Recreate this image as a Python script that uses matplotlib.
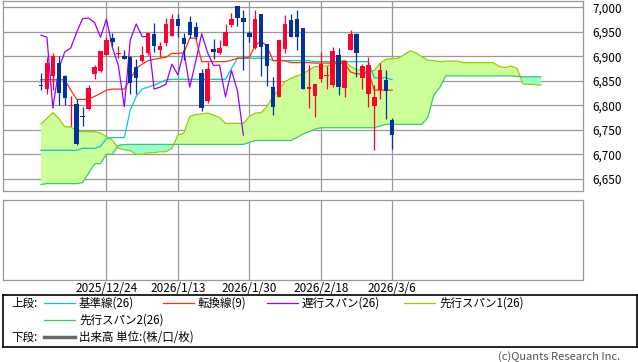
# -*- coding: utf-8 -*-
"""一目均衡表チャート(日足)の再現。"""

import matplotlib

matplotlib.use("Agg")
import matplotlib.pyplot as plt
from matplotlib.lines import Line2D

plt.rcParams["font.family"] = ["Noto Sans CJK JP", "DejaVu Sans"]

# ---- データ ----
opens = [6841, 6833, 6860, 6887, 6860, 6799, 6802, 6778, 6792, 6864,
         6869, 6903, 6938, 6905, 6901, 6899, 6879, 6891, 6906, 6945,
         6913, 6928, 6941, 6977, 6937, 6970, 6960, 6865, 6809, 6915,
         6907, 6922, 6964, 7003, 6978, 6948, 6916, 6986, 6925, 6837,
         6816, 6915, 6974, 6976, 6957, 6834, 6819, 6854, 6860, 6841,
         6903, 6836, 6913, 6946, 6856, 6823, 6798, 6831, 6852, 6770]
highs = [6866, 6899, 6906, 6901, 6862, 6819, 6812, 6796, 6841, 6882,
         6911, 6939, 6947, 6920, 6913, 6901, 6894, 6921, 6948, 6967,
         6930, 6978, 6986, 6986, 6947, 6982, 6969, 6873, 6889, 6935,
         6933, 6966, 6988, 7003, 6995, 6952, 6995, 6986, 6925, 6858,
         6933, 6984, 6986, 6995, 6957, 6882, 6843, 6908, 6880, 6918,
         6916, 6892, 6954, 6947, 6884, 6899, 6841, 6886, 6871, 6773]
lows = [6832, 6823, 6831, 6800, 6800, 6758, 6718, 6758, 6790, 6854,
        6867, 6902, 6921, 6896, 6894, 6823, 6823, 6889, 6903, 6909,
        6899, 6920, 6941, 6939, 6892, 6937, 6935, 6789, 6804, 6894,
        6905, 6922, 6959, 6962, 6872, 6930, 6914, 6860, 6839, 6780,
        6816, 6906, 6940, 6913, 6833, 6794, 6775, 6848, 6833, 6837,
        6820, 6816, 6913, 6858, 6833, 6796, 6709, 6812, 6771, 6711]
closes = [6839, 6887, 6901, 6826, 6815, 6801, 6721, 6776, 6835, 6879,
          6911, 6933, 6930, 6907, 6895, 6845, 6856, 6903, 6947, 6920,
          6921, 6966, 6977, 6962, 6925, 6943, 6939, 6794, 6875, 6909,
          6917, 6949, 6977, 6978, 6969, 6939, 6976, 6918, 6881, 6797,
          6933, 6966, 6940, 6940, 6833, 6837, 6843, 6884, 6862, 6911,
          6837, 6890, 6946, 6907, 6881, 6882, 6817, 6871, 6830, 6739]

# 転換線(9)
tenkan = [6852, 6852, 6852, 6852, 6852, 6831, 6812, 6812, 6812, 6818,
          6824, 6831, 6833, 6833, 6833, 6853, 6875, 6884, 6891, 6894,
          6896, 6898, 6906, 6906, 6907, 6937, 6937, 6889, 6889, 6889,
          6889, 6889, 6892, 6896, 6896, 6898, 6922, 6931, 6920, 6891,
          6891, 6891, 6887, 6887, 6887, 6887, 6886, 6886, 6886, 6886,
          6886, 6886, 6868, 6864, 6864, 6868, 6831, 6831, 6831, 6831]
# 基準線(26)
kijun = [6708, 6708, 6708, 6708, 6708, 6708, 6708, 6712, 6712, 6712,
         6716, 6732, 6734, 6734, 6734, 6790, 6818, 6833, 6837, 6841,
         6846, 6852, 6853, 6853, 6853, 6853, 6853, 6853, 6853, 6853,
         6853, 6853, 6875, 6896, 6896, 6896, 6896, 6896, 6896, 6891,
         6891, 6891, 6891, 6891, 6891, 6891, 6889, 6889, 6889, 6889,
         6889, 6889, 6889, 6889, 6889, 6889, 6856, 6856, 6856, 6852]
# 先行スパン1(26)
span1 = [6762, 6773, 6785, 6773, 6756, 6756, 6747, 6746, 6746, 6746,
         6743, 6736, 6729, 6712, 6709, 6707, 6700, 6700, 6703, 6703,
         6705, 6705, 6712, 6739, 6743, 6777, 6781, 6782, 6784, 6780,
         6775, 6763, 6763, 6763, 6763, 6777, 6784, 6785, 6798, 6818,
         6833, 6848, 6855, 6860, 6864, 6872, 6879, 6879, 6880, 6884,
         6889, 6892, 6879, 6873, 6871, 6867, 6871, 6886, 6894, 6895,
         6896, 6903, 6911, 6907, 6899, 6892, 6891, 6889, 6890, 6890,
         6890, 6887, 6887, 6887, 6887, 6887, 6887, 6879, 6877, 6880,
         6875, 6843, 6843, 6842, 6841]
# 先行スパン2(26)
span2 = [6638, 6640, 6640, 6640, 6640, 6640, 6640, 6642, 6661, 6680,
         6681, 6700, 6700, 6718, 6720, 6720, 6720, 6720, 6720, 6720,
         6720, 6720, 6720, 6720, 6720, 6720, 6720, 6720, 6720, 6720,
         6720, 6720, 6720, 6720, 6720, 6724, 6728, 6728, 6728, 6728,
         6728, 6728, 6728, 6734, 6741, 6746, 6751, 6754, 6754, 6754,
         6754, 6754, 6754, 6754, 6754, 6754, 6754, 6758, 6761, 6761,
         6761, 6761, 6761, 6761, 6761, 6775, 6821, 6836, 6860, 6860,
         6860, 6860, 6860, 6860, 6860, 6860, 6860, 6860, 6860, 6860,
         6859, 6858, 6858, 6858, 6858]
# 遅行スパン(26): 終値を25本前に表示
chikou = closes[25:]

date_pos = [11, 23, 35, 47, 59]
date_labels = ["2025/12/24", "2026/1/13", "2026/1/30", "2026/2/18", "2026/3/6"]
price_ticks = [6650, 6700, 6750, 6800, 6850, 6900, 6950, 7000]

# ---- 色 ----
C_UP, C_DOWN = "#ff0033", "#003399"
C_TENKAN, C_KIJUN, C_CHIKOU = "#ff3300", "#00cccc", "#9900ff"
C_SPAN1, C_SPAN2 = "#99cc00", "#33cc66"
C_GRID = "#999999"

W, H = 638, 362


def box(l, t, r, b):
    return [l / W, 1 - b / H, (r - l) / W, (b - t) / H]


fig = plt.figure(figsize=(W / 100, H / 100), dpi=100)
fig.patch.set_facecolor("white")

# ---- 上段 ----
ax = fig.add_axes(box(3, 0.5, 583, 190.7))
ax.set_xlim(-6.38, 91.06)
ax.set_ylim(6625.5, 7013.9)
ax.set_yticks(price_ticks)
ax.set_yticklabels([f"{v:,}" for v in price_ticks], fontsize=8.5)
ax.yaxis.tick_right()
ax.tick_params(axis="y", length=0, pad=7)
ax.set_xticks(date_pos)
ax.set_xticklabels([])
ax.tick_params(axis="x", length=0)
ax.grid(color=C_GRID, linewidth=0.9)
ax.set_axisbelow(True)
for s in ax.spines.values():
    s.set_color(C_GRID)
    s.set_linewidth(0.9)

xs = list(range(len(span1)))
ax.fill_between(xs, span1, span2, where=[a >= b for a, b in zip(span1, span2)],
                interpolate=True, color="#ccff99", linewidth=0, zorder=1)
ax.fill_between(xs, span1, span2, where=[a < b for a, b in zip(span1, span2)],
                interpolate=True, color="#99ffcc", linewidth=0, zorder=1)
ax.plot(xs, span1, color=C_SPAN1, linewidth=0.9, zorder=2)
ax.plot(xs, span2, color=C_SPAN2, linewidth=0.9, zorder=2)
ax.plot(range(len(kijun)), kijun, color=C_KIJUN, linewidth=0.9, zorder=3)
ax.plot(range(len(tenkan)), tenkan, color=C_TENKAN, linewidth=0.9, zorder=3)
ax.plot(range(len(chikou)), chikou, color=C_CHIKOU, linewidth=0.9, zorder=3)

n = len(closes)
cols = [C_UP if c >= o else C_DOWN for o, c in zip(opens, closes)]
ax.vlines(range(n), lows, highs, colors=cols, linewidth=0.9, zorder=4)
bottoms = [min(o, c) for o, c in zip(opens, closes)]
heights = [max(abs(c - o), 2) for o, c in zip(opens, closes)]
ax.bar(range(n), heights, bottom=bottoms, width=0.75, color=cols,
       linewidth=0, zorder=5)

# ---- 下段(出来高: データなし) ----
ax2 = fig.add_axes(box(3, 200, 583, 280))
ax2.set_xlim(-6.38, 91.06)
ax2.set_ylim(0, 1)
ax2.set_yticks([])
ax2.set_xticks(date_pos)
ax2.set_xticklabels(date_labels, fontsize=8.5)
ax2.tick_params(axis="x", length=0, pad=1.5)
ax2.grid(axis="x", color=C_GRID, linewidth=0.9)
for s in ax2.spines.values():
    s.set_color(C_GRID)
    s.set_linewidth(0.9)

# ---- 凡例 ----
lg = fig.add_axes(box(3, 295, 637, 347))
lg.set_xlim(3, 637)
lg.set_ylim(347, 295)
lg.set_xticks([])
lg.set_yticks([])
for s in lg.spines.values():
    s.set_color("black")
    s.set_linewidth(1.2)

fs = 8.3
lg.text(11, 303, "上段:", fontsize=fs, va="center")
items = [(44, C_KIJUN, "基準線(26)", 303), (163, C_TENKAN, "転換線(9)", 303),
         (267, C_CHIKOU, "遅行スパン(26)", 303), (404, C_SPAN1, "先行スパン1(26)", 303),
         (44, C_SPAN2, "先行スパン2(26)", 320)]
for x0, c, label, y in items:
    lg.add_line(Line2D([x0, x0 + 31], [y, y], color=c, linewidth=0.9))
    lg.text(x0 + 35, y, label, fontsize=fs, va="center")
lg.text(11, 337, "下段:", fontsize=fs, va="center")
lg.add_line(Line2D([44, 75], [337, 337], color="#666666", linewidth=2.5))
lg.text(79, 337, "出来高 単位:(株/口/枚)", fontsize=fs, va="center")

fig.text(620 / W, 1 - 357 / H, "(c)Quants Research Inc.", fontsize=8,
         color="#555555", ha="right", va="center")

fig.savefig("out.png", dpi=100)
plt.close(fig)
